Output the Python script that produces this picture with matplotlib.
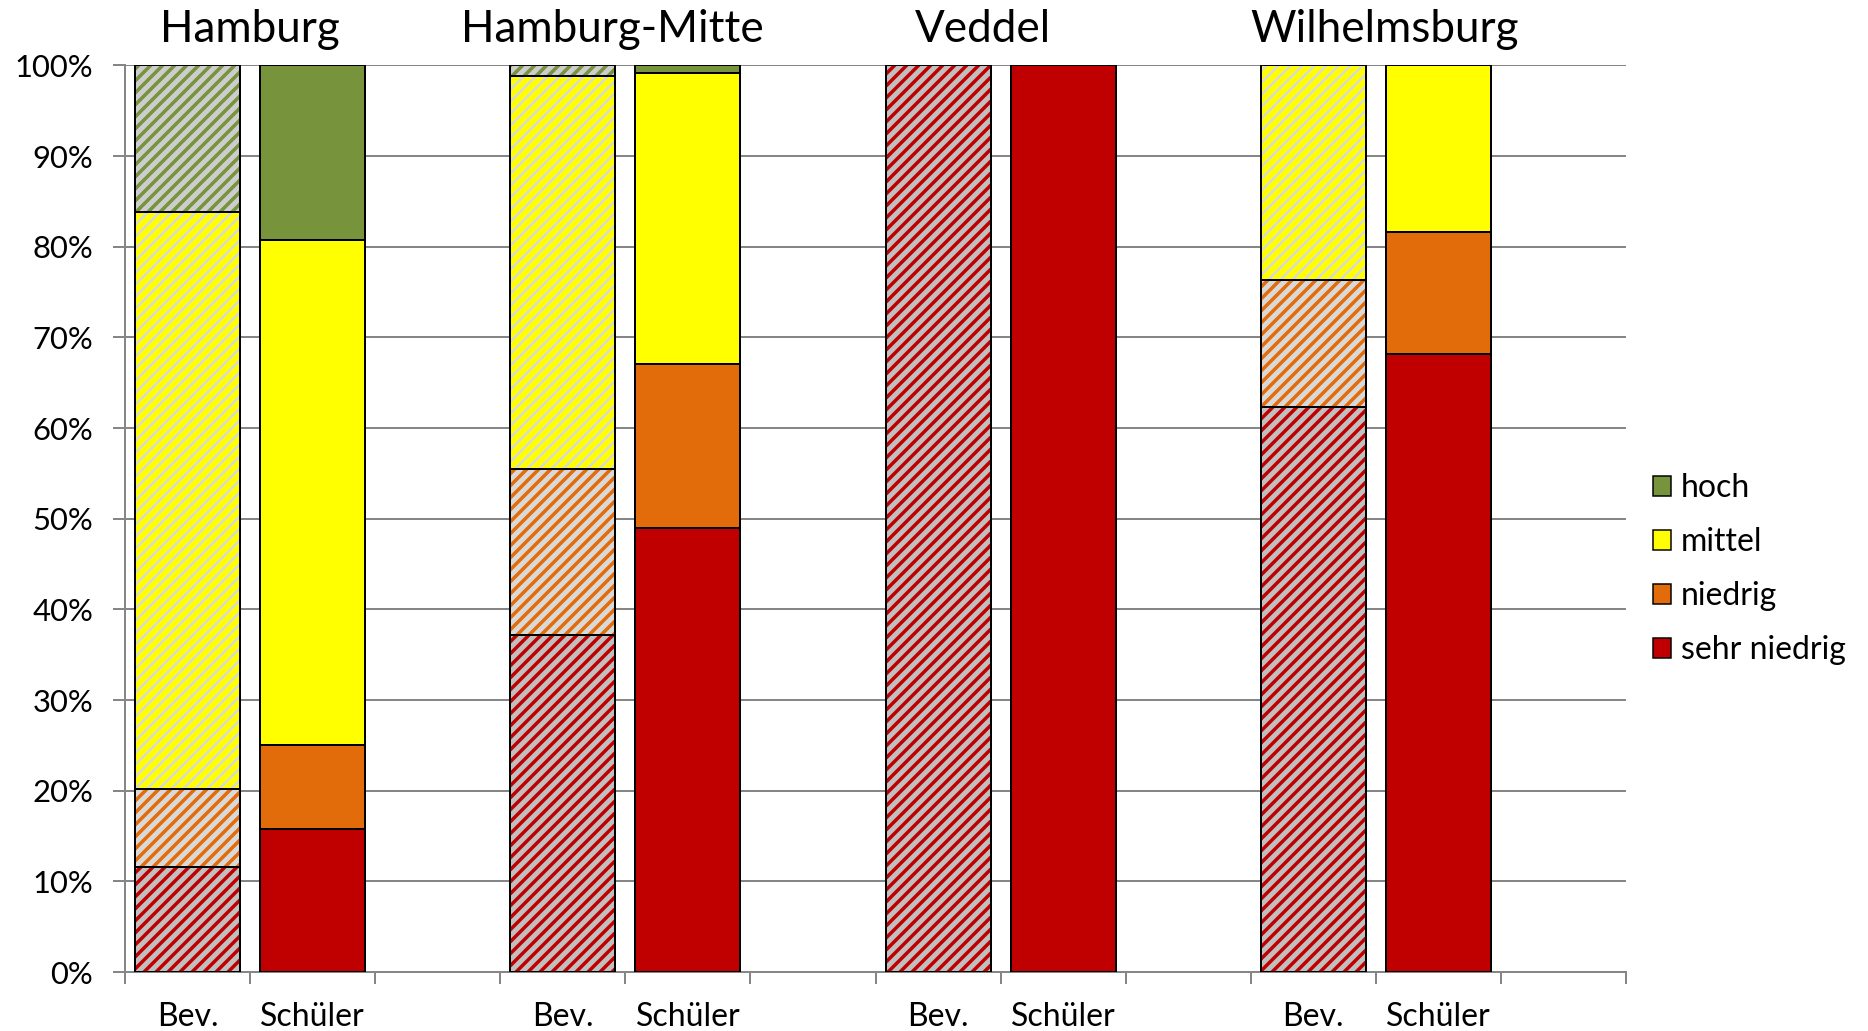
import numpy as np
import matplotlib.pyplot as plt
from matplotlib.patches import Patch
from matplotlib.ticker import FuncFormatter
import matplotlib.transforms as mtransforms


plt.rcParams['font.family'] = ['Lato', 'DejaVu Sans']

groups = ['Hamburg', 'Hamburg-Mitte', 'Veddel', 'Wilhelmsburg']
bar_labels = ['Bev.', 'Schüler']
levels = ['sehr niedrig', 'niedrig', 'mittel', 'hoch']

# shares in % (bottom to top)
bev_sehr_niedrig = [11.6, 37.2, 100.0, 62.3]
bev_niedrig = [8.6, 18.3, 0.0, 14.0]
bev_mittel = [63.6, 43.3, 0.0, 23.7]
bev_hoch = [16.2, 1.2, 0.0, 0.0]

sch_sehr_niedrig = [15.8, 49.0, 100.0, 68.2]
sch_niedrig = [9.2, 18.1, 0.0, 13.4]
sch_mittel = [55.8, 32.1, 0.0, 18.4]
sch_hoch = [19.2, 0.8, 0.0, 0.0]

colors = {'sehr niedrig': '#C00000', 'niedrig': '#E36C0A',
          'mittel': '#FFFF00', 'hoch': '#77933C'}
hatch_bg = {'sehr niedrig': '#C0C0C0', 'niedrig': '#D9D9D9',
            'mittel': '#D9D9D9', 'hoch': '#CDCDCD'}
hatch_lw = {'sehr niedrig': 3.5, 'niedrig': 3.5, 'mittel': 2.5, 'hoch': 3.5}

# small nudges so the group titles sit like in the original
title_shift = [0.0, -0.1, -0.14, 0.07]


def draw_bar(ax, x, vals, hatched):
    bottom = 0.0
    for lev, v in zip(levels, vals):
        if v <= 0:
            continue
        if hatched:
            if lev == 'mittel':
                face, stripe = colors[lev], hatch_bg[lev]
            else:
                face, stripe = hatch_bg[lev], colors[lev]
            plt.rcParams['hatch.linewidth'] = hatch_lw[lev]
            bars = ax.bar(x, v, 0.84, bottom=bottom, color=face,
                          edgecolor=stripe, linewidth=0, hatch='//', zorder=2)
            for p in bars:
                if hasattr(p, 'set_hatch_linewidth'):
                    p.set_hatch_linewidth(hatch_lw[lev])
            ax.bar(x, v, 0.84, bottom=bottom, facecolor='none',
                   edgecolor='black', linewidth=2, zorder=3)
        else:
            ax.bar(x, v, 0.84, bottom=bottom, color=colors[lev],
                   edgecolor='black', linewidth=2, zorder=3)
        bottom += v


fig = plt.figure(figsize=(1868 / 72, 1031 / 72), dpi=72)
ax = fig.add_axes([0.0669, 0.0572, 0.8036, 0.8793])

bev = [bev_sehr_niedrig, bev_niedrig, bev_mittel, bev_hoch]
sch = [sch_sehr_niedrig, sch_niedrig, sch_mittel, sch_hoch]

xs, xl = [], []
for g in range(len(groups)):
    xb = 3 * g
    draw_bar(ax, xb, [s[g] for s in bev], True)
    draw_bar(ax, xb + 1, [s[g] for s in sch], False)
    xs += [xb, xb + 1]
    xl += bar_labels

ax.set_xlim(-0.5, 11.5)
ax.set_ylim(0, 100)
ax.set_yticks(np.arange(0, 101, 10))
ax.yaxis.set_major_formatter(FuncFormatter(lambda v, p: f'{v:.0f}%'))
ax.set_xticks(xs)
ax.set_xticklabels(xl, fontsize=32)
ax.set_xticks(np.arange(-0.5, 12, 1), minor=True)
ax.tick_params(axis='x', which='major', length=0, pad=30)
ax.tick_params(axis='x', which='minor', length=12, width=2, color='#868686')
ax.tick_params(axis='y', length=12, width=2, color='#868686', labelsize=31, pad=20)

ax.grid(axis='y', color='#868686', linewidth=2, zorder=0)
ax.set_axisbelow(True)
for s in ['top', 'right']:
    ax.spines[s].set_visible(False)
for s in ['left', 'bottom']:
    ax.spines[s].set_color('#868686')
    ax.spines[s].set_linewidth(2)

trans = mtransforms.blended_transform_factory(ax.transData, ax.transAxes)
for g, name in enumerate(groups):
    ax.text(3 * g + 0.5 + title_shift[g], 1.040, name, transform=trans,
            ha='center', va='center', fontsize=44)

handles = [Patch(facecolor=colors[l], edgecolor='black', linewidth=1.5)
           for l in reversed(levels)]
fig.legend(handles, list(reversed(levels)), loc='center left',
           bbox_to_anchor=(0.885, 0.448), frameon=False, fontsize=32,
           handlelength=0.56, handleheight=0.56, handletextpad=0.3,
           labelspacing=0.75, borderpad=0, borderaxespad=0)

fig.savefig('out.png', dpi=72)
